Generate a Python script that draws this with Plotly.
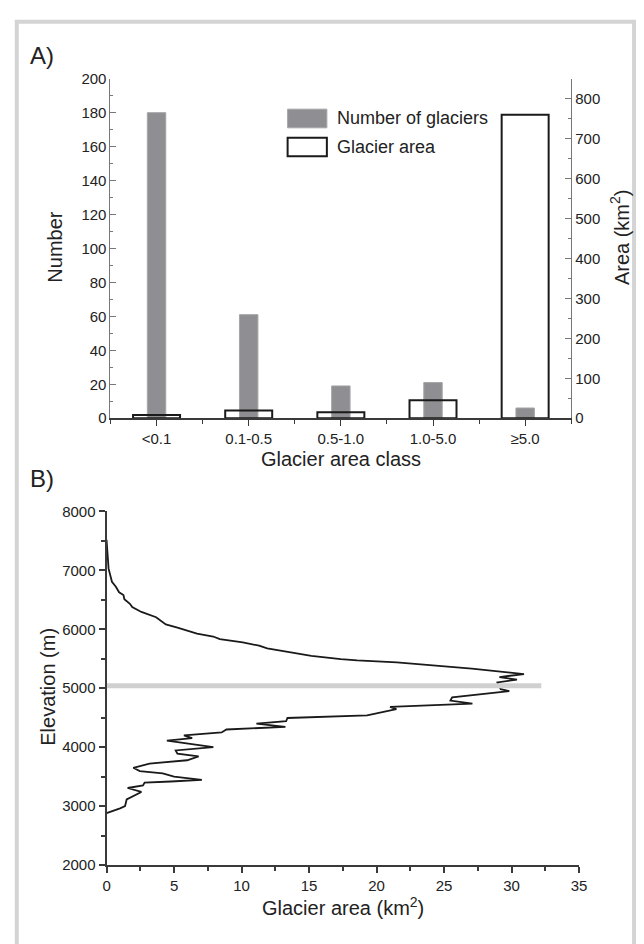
import plotly.graph_objects as go

# ---------------- data ----------------
area_classes = ["<0.1", "0.1-0.5", "0.5-1.0", "1.0-5.0", "≥5.0"]
number_of_glaciers = [180, 61, 19, 21, 6]
glacier_area_km2 = [8, 19, 15, 45, 760]

hyp_area = [0.0, 0.15, 0.4, 0.69, 0.93, 1.25, 1.32, 1.73, 1.9, 2.58, 3.67, 4.03, 4.39,
            5.25, 6.7, 7.9, 8.39, 10.09, 11.3, 11.9, 13.72, 15.17, 17.35, 18.57, 21.5,
            25.1, 27.05, 30.92, 29.1, 30.4, 28.95, 29.2, 29.83, 25.6, 25.47, 27.1, 21.0,
            21.47, 19.3, 13.4, 13.3, 11.1, 13.25, 8.88, 8.52, 5.73, 6.34, 4.47, 7.91,
            5.12, 5.25, 6.82, 5.97, 3.18, 1.98, 2.46, 4.16, 5.0, 7.06, 4.76, 2.82, 2.7,
            1.56, 2.58, 1.49, 1.37, 1.0, 0.0]
hyp_elev = [7520, 7030, 6806, 6723, 6628, 6583, 6512, 6433, 6378, 6295, 6206, 6140, 6083,
            6028, 5928, 5878, 5833, 5778, 5722, 5678, 5600, 5550, 5495, 5473, 5440,
            5378, 5333, 5240, 5190, 5145, 5100, 4983, 4950, 4845, 4790, 4740, 4685,
            4645, 4540, 4495, 4440, 4400, 4345, 4300, 4250, 4200, 4155, 4112, 4000,
            3945, 3890, 3845, 3778, 3722, 3650, 3595, 3555, 3500, 3445, 3417, 3400, 3350,
            3307, 3240, 3112, 3000, 2962, 2880]
ela_area = [0.0, 32.2]
ela_elev = [5042, 5042]

# ---------------- geometry helpers (pixels -> paper) ----------------
W, H = 644, 944
def px(x):
    return x / W
def py(y):
    return 1 - y / H

FONT = "Liberation Sans, Arial, Helvetica, sans-serif"
TXT = "#222222"
AX = "#3a3a3a"

cat_pos = list(range(len(area_classes)))

fig = go.Figure()

# Panel A: area bars (white fill) below, number bars, area outline on top
fig.add_trace(go.Bar(x=cat_pos, y=glacier_area_km2, width=0.51, xaxis="x", yaxis="y",
                     marker=dict(color="white", line=dict(width=0)), name="Glacier area",
                     showlegend=False, hoverinfo="y"))
fig.add_trace(go.Bar(x=cat_pos, y=number_of_glaciers, width=0.2, xaxis="x", yaxis="y2",
                     marker=dict(color="#8f8f93", line=dict(color="#a5a5a8", width=1)),
                     name="Number of glaciers", showlegend=False))
fig.add_trace(go.Bar(x=cat_pos, y=glacier_area_km2, width=0.51, xaxis="x", yaxis="y5",
                     marker=dict(color="rgba(0,0,0,0)", line=dict(color="#1a1a1a", width=2)),
                     name="Glacier area", showlegend=False, hoverinfo="skip"))

# Panel B: hypsometry
fig.add_trace(go.Scatter(x=hyp_area, y=hyp_elev, xaxis="x3", yaxis="y3", mode="lines",
                         line=dict(color="#1a1a1a", width=1.8), showlegend=False))
fig.add_trace(go.Scatter(x=ela_area, y=ela_elev, xaxis="x3", yaxis="y3", mode="lines",
                         line=dict(color="#d0d0d0", width=5), showlegend=False))

axA_dom_x = [px(108.5), px(578)]
axA_dom_y = [py(416.7), py(71)]
axB_dom_x = [px(104.5), px(586)]
axB_dom_y = [py(871.7), py(511.7)]

tickfont = dict(family=FONT, size=15, color=TXT)

fig.update_layout(
    width=W, height=H,
    margin=dict(l=0, r=0, t=0, b=0),
    paper_bgcolor="white", plot_bgcolor="white",
    barmode="overlay",
    font=dict(family=FONT, color=TXT),
    xaxis=dict(domain=axA_dom_x, anchor="y", range=[-0.5, 4.5],
               tickmode="array", tickvals=cat_pos, ticktext=area_classes,
               showline=True, linecolor=AX, linewidth=1.5, ticks="outside",
               ticklen=6, tickwidth=1, tickcolor=AX, showgrid=False, zeroline=False,
               tickfont=tickfont,
               minor=dict(tickvals=[-0.5, 0.5, 1.5, 2.5, 3.5, 4.5], ticks="outside",
                          ticklen=4, tickcolor=AX, showgrid=False)),
    yaxis=dict(domain=axA_dom_y, anchor="x", side="right", range=[0, 850],
               tickmode="linear", tick0=0, dtick=100, showline=True, linecolor="#777777",
               linewidth=1, ticks="inside", ticklen=6, tickcolor="#777777",
               showgrid=False, zeroline=False, tickfont=tickfont,
               minor=dict(dtick=50, ticks="inside", ticklen=3, tickcolor="#777777",
                          showgrid=False)),
    yaxis2=dict(domain=axA_dom_y, anchor="x", overlaying="y", side="left", range=[0, 200],
                tickmode="linear", tick0=0, dtick=20, showline=True, linecolor="#777777",
                linewidth=1, ticks="inside", ticklen=6, tickcolor="#777777",
                showgrid=False, zeroline=False, tickfont=tickfont,
                minor=dict(dtick=10, ticks="inside", ticklen=3, tickcolor="#777777",
                           showgrid=False)),
    yaxis5=dict(domain=axA_dom_y, anchor="x", overlaying="y", matches="y", visible=False,
                range=[0, 850]),
    xaxis3=dict(domain=axB_dom_x, anchor="y3", range=[0, 35], tickmode="linear", tick0=0,
                dtick=5, showline=True, linecolor=AX, linewidth=2, ticks="outside",
                ticklen=6, tickcolor=AX, tickwidth=1.5, showgrid=False, zeroline=False,
                tickfont=tickfont,
                minor=dict(dtick=2.5, ticks="outside", ticklen=4, tickcolor=AX,
                           showgrid=False)),
    yaxis3=dict(domain=axB_dom_y, anchor="x3", range=[2000, 8000], tickmode="linear",
                tick0=2000, dtick=1000, showline=True, linecolor=AX, linewidth=2,
                ticks="outside", ticklen=6, tickcolor=AX, tickwidth=1.5, showgrid=False,
                zeroline=False, tickfont=tickfont,
                minor=dict(dtick=500, ticks="outside", ticklen=4, tickcolor=AX,
                           showgrid=False)),
    xaxis4=dict(domain=axB_dom_x, anchor="y3", overlaying="x3", side="top", range=[0, 35],
                tickmode="linear", tick0=0, dtick=2.5, showline=True, linecolor=AX,
                linewidth=2, ticks="inside", ticklen=4, tickcolor=AX, tickwidth=1.5,
                showticklabels=False, showgrid=False, zeroline=False),
    yaxis4=dict(domain=axB_dom_y, anchor="x3", overlaying="y3", side="right",
                range=[2000, 8000], tickmode="linear", tick0=2000, dtick=500,
                showline=True, linecolor=AX, linewidth=2, ticks="inside", ticklen=4,
                tickcolor=AX, tickwidth=1.5, showticklabels=False, showgrid=False,
                zeroline=False),
)

shapes = [
    # outer light-grey frame
    dict(type="rect", xref="paper", yref="paper", x0=px(13), x1=px(642), y0=py(960), y1=py(13),
         line=dict(color="#d4d4d4", width=4), fillcolor="rgba(0,0,0,0)", layer="below"),
    # manual legend boxes
    dict(type="rect", xref="paper", yref="paper", x0=px(289), x1=px(329), y0=py(121), y1=py(102),
         fillcolor="#8f8f93", line=dict(color="#a5a5a8", width=1)),
    dict(type="rect", xref="paper", yref="paper", x0=px(289), x1=px(329), y0=py(150), y1=py(131),
         fillcolor="white", line=dict(color="#1a1a1a", width=2)),
]

ann = []
def text(x, y, s, size, angle=0, xanchor="center"):
    ann.append(dict(x=px(x), y=py(y), xref="paper", yref="paper", text=s, showarrow=False,
                    textangle=angle, xanchor=xanchor, yanchor="middle",
                    font=dict(family=FONT, size=size, color=TXT)))

text(24, 47, "A)", 24, xanchor="left")
text(24, 478, "B)", 24, xanchor="left")
text(337, 111.5, "Number of glaciers", 18, xanchor="left")
text(337, 140.5, "Glacier area", 18, xanchor="left")
text(52, 243, "Number", 20, angle=-90)
text(628, 232, "Area (km<sup>2</sup>)", 20, angle=-90)
text(343, 458, "Glacier area class", 20)
text(44, 690, "Elevation (m)", 20, angle=-90)
text(345, 914, "Glacier area (km<sup>2</sup>)", 20)

fig.update_layout(shapes=shapes, annotations=ann)

fig.write_html(
    "out.html",
    config={"displayModeBar": False, "responsive": False},
    post_script="document.body.style.margin='0';document.body.style.padding='0';"
                "document.body.style.overflow='hidden';"
                "document.documentElement.style.overflow='hidden';",
)
